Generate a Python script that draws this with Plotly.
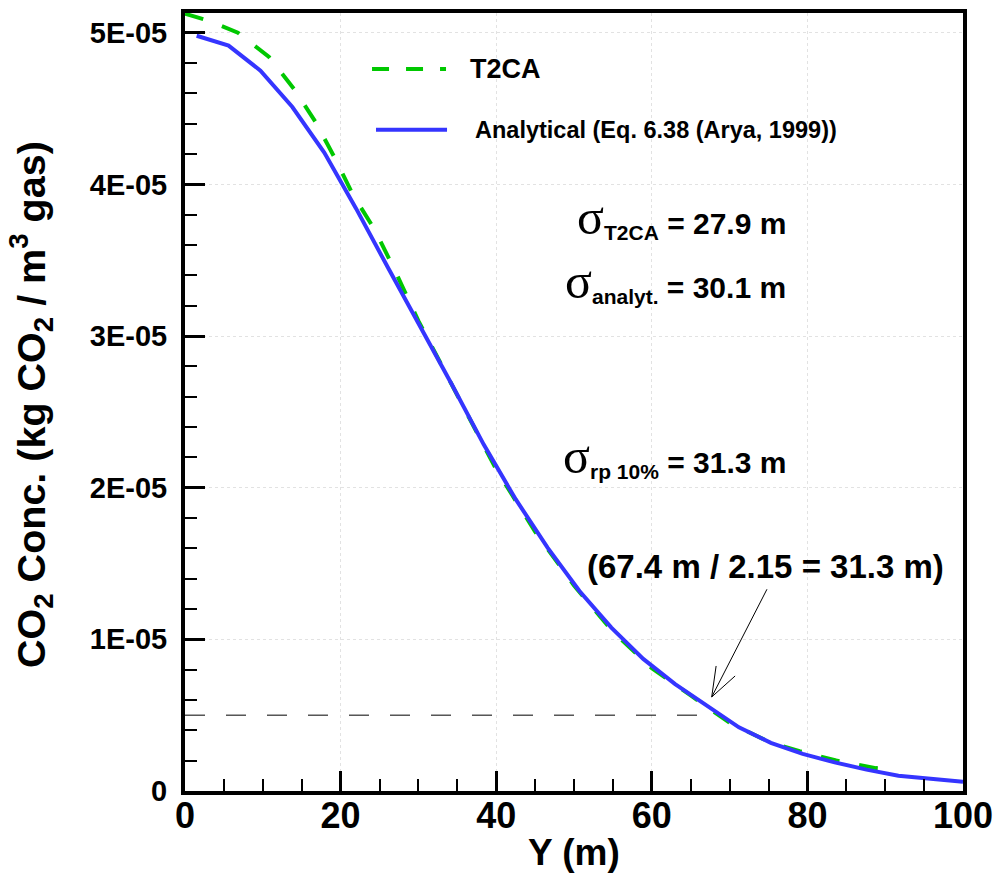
import plotly.graph_objects as go

# Lateral distance Y (m) and CO2 concentration (kg CO2 / m3 gas)
t2ca_y = [0, 3, 6.8, 10.8, 14, 16.8, 19.3, 21.6, 24.4, 27, 30, 35, 40, 45,
          50, 55, 60, 65, 70, 75, 79, 83.7, 88.8, 90.2]
t2ca_c = [5.125e-5, 5.08e-5, 5.00e-5, 4.84e-5, 4.63e-5, 4.41e-5, 4.17e-5,
          3.93e-5, 3.70e-5, 3.43e-5, 3.10e-5, 2.61e-5, 2.12e-5, 1.71e-5,
          1.355e-5, 1.05e-5, 0.81e-5, 0.63e-5, 0.45e-5, 0.325e-5, 0.262e-5,
          0.201e-5, 0.151e-5, 0.145e-5]

analyt_y = [1.5, 5.6, 9.7, 13.8, 17.9, 22.0, 26.1, 30.2, 34.3, 38.4, 42.5,
            46.6, 50.7, 54.8, 58.9, 63.0, 67.1, 71.2, 75.3, 79.4, 83.5, 87.6,
            91.7, 95.8, 100]
analyt_c = [4.98e-5, 4.915e-5, 4.75e-5, 4.51e-5, 4.21e-5, 3.84e-5, 3.45e-5,
            3.07e-5, 2.68e-5, 2.284e-5, 1.924e-5, 1.605e-5, 1.319e-5,
            1.077e-5, 0.871e-5, 0.705e-5, 0.56e-5, 0.42e-5, 0.317e-5,
            0.245e-5, 0.189e-5, 0.141e-5, 0.100e-5, 0.078e-5, 0.061e-5]

# 10 % of the peak concentration, reached at 67.4 m
ref_y = [0, 67.4]
ref_c = [5e-6, 5e-6]

x_ticks = [0, 20, 40, 60, 80, 100]
y_ticks = [0, 1e-5, 2e-5, 3e-5, 4e-5, 5e-5]
y_tick_text = ["0", "1E-05", "2E-05", "3E-05", "4E-05", "5E-05"]

GREEN = "#00c800"
BLUE = "#3535ff"
SANS = "Liberation Sans, Arial, sans-serif"
SIGMA = ("<span style=\"font-family:Liberation Serif;font-size:50px;"
         "font-weight:normal\">σ</span>")

fig = go.Figure()
fig.add_trace(go.Scatter(x=ref_y, y=ref_c, mode="lines",
                         line=dict(color="black", width=1, dash="20px,21px"),
                         showlegend=False, hoverinfo="skip"))
fig.add_trace(go.Scatter(x=t2ca_y, y=t2ca_c, mode="lines", name="T2CA",
                         line=dict(color=GREEN, width=4, dash="19px,20px"),
                         showlegend=False))
fig.add_trace(go.Scatter(x=analyt_y, y=analyt_c, mode="lines",
                         name="Analytical (Eq. 6.38 (Arya, 1999))",
                         line=dict(color=BLUE, width=4), showlegend=False))

axis_common = dict(
    showline=True, linecolor="black", linewidth=4, mirror=True,
    ticks="inside", ticklen=20, tickwidth=3, tickcolor="black",
    showgrid=True, gridcolor="#e2e2e2", gridwidth=1, griddash="dot",
    zeroline=False,
)

fig.update_xaxes(
    range=[0, 100], tickvals=x_ticks,
    tickfont=dict(family=SANS, size=36, color="black", weight="bold"),
    ticklabelstandoff=-10,
    minor=dict(ticks="inside", ticklen=12, tickwidth=1.5, tickcolor="black",
               dtick=5, showgrid=False),
    **axis_common,
)
fig.update_yaxes(
    range=[0, 5.13e-5], tickvals=y_ticks, ticktext=y_tick_text,
    tickfont=dict(family=SANS, size=29, color="black", weight="bold"),
    ticklabelstandoff=8,
    minor=dict(ticks="inside", ticklen=12, tickwidth=1.5, tickcolor="black",
               dtick=2e-6, showgrid=False),
    **axis_common,
)

# legend drawn inside the frame
fig.add_shape(type="line", xref="paper", yref="paper",
              x0=0.2404, x1=0.3355, y0=0.9280, y1=0.9280,
              line=dict(color=GREEN, width=4, dash="17px,17px"))
fig.add_shape(type="line", xref="paper", yref="paper",
              x0=0.2455, x1=0.3368, y0=0.8500, y1=0.8500,
              line=dict(color=BLUE, width=4))

ann_font = dict(family=SANS, color="black", weight="bold")
annotations = [
    dict(text="T2CA", x=0.3638, y=0.9283, xanchor="left", yanchor="middle",
         font=dict(ann_font, size=27)),
    dict(text="Analytical (Eq. 6.38 (Arya, 1999))", x=0.3702, y=0.8490,
         xanchor="left", yanchor="middle", font=dict(ann_font, size=23.5)),
    dict(text=SIGMA + "<sub>T2CA</sub> = 27.9 m", x=0.7751, y=0.7374,
         xanchor="right", yanchor="middle", font=dict(ann_font, size=30)),
    dict(text=SIGMA + "<sub>analyt.</sub> = 30.1 m", x=0.7751, y=0.6551,
         xanchor="right", yanchor="middle", font=dict(ann_font, size=30)),
    dict(text=SIGMA + "<sub>rp 10%</sub> = 31.3 m", x=0.7751, y=0.4303,
         xanchor="right", yanchor="middle", font=dict(ann_font, size=30)),
    dict(text="(67.4 m / 2.15 = 31.3 m)", x=0.7459, y=0.2890,
         xanchor="center", yanchor="middle", font=dict(ann_font, size=33)),
    dict(text="Y (m)", x=0.5, y=-0.0793, xanchor="center", yanchor="middle",
         font=dict(ann_font, size=37)),
    dict(text="CO<sub>2</sub> Conc. (kg CO<sub>2</sub> / m<sup>3</sup> gas)",
         x=-0.1980, y=0.4974, xanchor="center", yanchor="middle",
         textangle=-90, font=dict(ann_font, size=39.5)),
]
for a in annotations:
    fig.add_annotation(xref="paper", yref="paper", showarrow=False, **a)

# arrow from the note to the 10 % crossing
fig.add_annotation(x=67.7, y=6.2e-6, ax=74.9, ay=1.34e-5, xref="x", yref="y",
                   axref="x", ayref="y", text="", showarrow=True,
                   arrowhead=0, arrowwidth=1, arrowcolor="black", standoff=0)
fig.add_shape(type="path", xref="x", yref="y",
              xsizemode="pixel", ysizemode="pixel",
              xanchor=67.7, yanchor=6.2e-6,
              path="M 4.4,31 L 0,0 L 23.4,21",
              line=dict(color="black", width=1))

fig.update_layout(
    width=1003, height=882,
    margin=dict(l=185, r=40, t=9, b=91, pad=0),
    plot_bgcolor="white", paper_bgcolor="white",
    showlegend=False,
)

fig.write_html("out.html")
